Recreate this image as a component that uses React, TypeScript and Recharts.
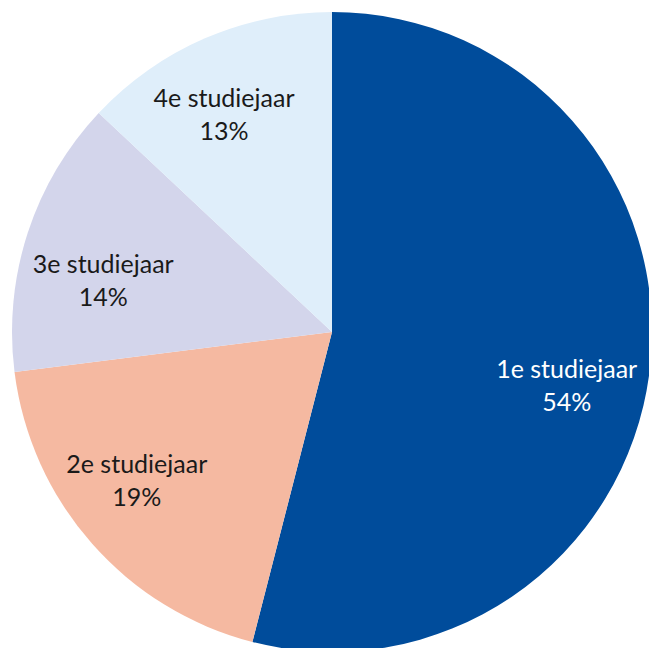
import { PieChart, Pie, Cell } from 'recharts'

const categories = ['1e studiejaar', '2e studiejaar', '3e studiejaar', '4e studiejaar']
const shares = [54, 19, 14, 13]
const colors = ['#004C9B', '#F5B9A1', '#D3D5EB', '#DFEEFA']
const labelColors = ['#FFFFFF', '#1A1A1A', '#1A1A1A', '#1A1A1A']
// small nudges so the labels sit where the original placed them
const labelNudge = [[-5, 24], [-14, -11], [1, 24], [-12, 5]]

const data = categories.map((name, i) => ({ name, value: shares[i] }))

const RADIAN = Math.PI / 180

function renderLabel(props: any) {
  const { cx, cy, midAngle, outerRadius, index, name, value } = props
  const r = outerRadius * 0.755
  const x = cx + r * Math.cos(-midAngle * RADIAN) + labelNudge[index][0]
  const y = cy + r * Math.sin(-midAngle * RADIAN) + labelNudge[index][1]
  return (
    <text
      x={x}
      y={y}
      textAnchor="middle"
      fill={labelColors[index]}
      fontFamily="Lato, 'Open Sans', sans-serif"
      fontSize={25}
    >
      <tspan x={x} dy={-8}>{name}</tspan>
      <tspan x={x} dy={33}>{value}%</tspan>
    </text>
  )
}

export default function App() {
  return (
    <div style={{ position: 'absolute', left: 0, top: 0, width: 649, height: 648, background: '#fff' }}>
      <PieChart width={649} height={648} margin={{ top: 0, right: 0, bottom: 0, left: 0 }}>
        <Pie
          data={data}
          dataKey="value"
          nameKey="name"
          cx={332}
          cy={332}
          outerRadius={320}
          startAngle={90}
          endAngle={-270}
          stroke="none"
          label={renderLabel}
          labelLine={false}
          isAnimationActive={false}
        >
          {data.map((d, i) => (
            <Cell key={d.name} fill={colors[i]} />
          ))}
        </Pie>
      </PieChart>
    </div>
  )
}
